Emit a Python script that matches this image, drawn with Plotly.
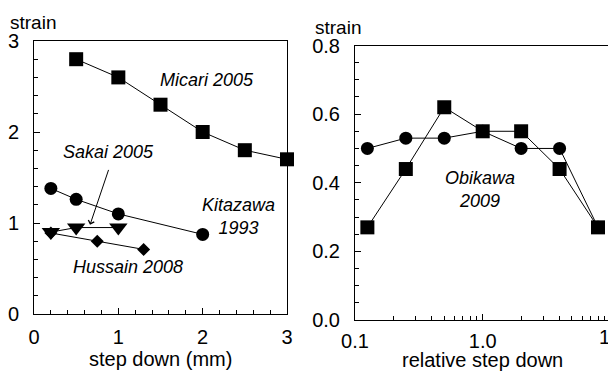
import math
import plotly.graph_objects as go

# Left panel data (step down in mm)
micari_x = [0.5, 1.0, 1.5, 2.0, 2.5, 3.0]
micari_y = [2.8, 2.6, 2.3, 2.0, 1.8, 1.7]
kitazawa_x = [0.2, 0.5, 1.0, 2.0]
kitazawa_y = [1.38, 1.26, 1.10, 0.875]
sakai_x = [0.2, 0.5, 1.0]
sakai_y = [0.90, 0.95, 0.95]
hussain_x = [0.2, 0.75, 1.3]
hussain_y = [0.89, 0.80, 0.71]

# Right panel data (relative step down, log)
obikawa_x = [0.125, 0.25, 0.5, 1.0, 2.0, 4.0, 8.0]
obikawa_circ_y = [0.50, 0.53, 0.53, 0.55, 0.50, 0.50, 0.27]
obikawa_sq_y = [0.27, 0.44, 0.62, 0.55, 0.55, 0.44, 0.27]

left_yticks = [0, 1, 2, 3]
left_xticks = [0, 1, 2, 3]
right_yticks = [0.0, 0.2, 0.4, 0.6, 0.8]
right_xticks = [0.1, 1.0]
right_xticktext = ["0.1", "1.0"]
right_xlast = 10
right_xlast_text = "10"
right_xminor = [m * d for d in (0.1, 1.0) for m in range(2, 10)]

FONT = "Liberation Sans, Arial, sans-serif"
W, H = 608, 371

# pixel layout of the two panels
L_X0, L_X1, L_Y0, L_Y1 = 34, 287, 314, 41
R_X0, R_Y0, R_Y1 = 355, 320, 45.5
R_DECADE = 127.7  # px per decade on the log axis
R_XMAX_LOG = -1 + (W - R_X0) / R_DECADE

line = dict(color="black", width=1)

fig = go.Figure()

def add(x, y, symbol, size, xa, ya):
    fig.add_trace(go.Scatter(
        x=x, y=y, mode="lines+markers", xaxis=xa, yaxis=ya,
        line=line, marker=dict(symbol=symbol, size=size, color="black"),
        showlegend=False, cliponaxis=False))

add(micari_x, micari_y, "square", 14, "x", "y")
add(kitazawa_x, kitazawa_y, "circle", 13, "x", "y")
add(hussain_x, hussain_y, "diamond", 10, "x", "y")
add(sakai_x, sakai_y, "triangle-down", 16, "x", "y")
add(obikawa_x, obikawa_circ_y, "circle", 13, "x2", "y2")
add(obikawa_x, obikawa_sq_y, "square", 14, "x2", "y2")

common = dict(showline=True, linecolor="black", linewidth=1, ticks="inside",
              ticklen=6, tickcolor="black", showgrid=False, zeroline=False,
              automargin=False,
              tickfont=dict(family=FONT, size=20, color="black"))

fig.update_layout(
    width=W, height=H,
    margin=dict(l=0, r=0, t=0, b=0),
    paper_bgcolor="white", plot_bgcolor="white",
    font=dict(family=FONT, color="black"),
    xaxis=dict(domain=[L_X0 / W, L_X1 / W], range=[0, 3], tickvals=left_xticks,
               mirror=True, anchor="y", ticklabelstandoff=5,
               minor=dict(dtick=0.2, ticks="inside", ticklen=4, tickcolor="black"),
               **common),
    yaxis=dict(domain=[(H - L_Y0) / H, (H - L_Y1) / H], range=[0, 3], tickvals=left_yticks,
               mirror=True, anchor="x", ticklabelstandoff=10,
               minor=dict(dtick=0.2, ticks="inside", ticklen=4, tickcolor="black"),
               **common),
    xaxis2=dict(domain=[R_X0 / W, 1], type="log", range=[-1, R_XMAX_LOG],
                tickvals=right_xticks, ticktext=right_xticktext,
                mirror=True, anchor="y2", ticklabelstandoff=3,
                minor=dict(tickmode="array", tickvals=right_xminor, ticks="inside",
                           ticklen=4, tickcolor="black"),
                **common),
    yaxis2=dict(domain=[(H - R_Y0) / H, (H - R_Y1) / H], range=[0, 0.8], tickvals=right_yticks,
                tickformat=".1f", mirror=False, anchor="x2", ticklabelstandoff=10,
                minor=dict(dtick=0.05, ticks="inside", ticklen=4, tickcolor="black"),
                **common),
)

ann_font = dict(family=FONT, size=18, color="black")
def label(text, x, y, xref, yref):
    fig.add_annotation(text=text, x=x, y=y, xref=xref, yref=yref, showarrow=False,
                       font=ann_font, align="center")

label("<i>Micari 2005</i>", 2.05, 2.57, "x", "y")
label("<i>Sakai 2005</i>", 0.88, 1.78, "x", "y")
label("<i>Kitazawa<br>1993</i>", 2.42, 1.07, "x", "y")
label("<i>Hussain 2008</i>", 1.12, 0.52, "x", "y")
label("<i>Obikawa<br>2009</i>", -0.021, 0.38, "x2", "y2")

# partially visible "10" tick label at the clipped right end of the log axis
x10_px = R_X0 + (math.log10(right_xlast) + 1) * R_DECADE
fig.add_annotation(text=right_xlast_text, x=x10_px / W, y=(H - R_Y0 - 4) / H,
                   xref="paper", yref="paper", yanchor="top", xanchor="center",
                   showarrow=False, font=dict(family=FONT, size=20, color="black"))

# axis titles
fig.add_annotation(text="step down (mm)", x=(L_X0 + L_X1) / 2 / W, y=(H - 359) / H,
                   xref="paper", yref="paper", xanchor="center", yanchor="middle",
                   showarrow=False, font=dict(family=FONT, size=20, color="black"))
fig.add_annotation(text="relative step down", x=(R_X0 + x10_px) / 2 / W, y=(H - 359.5) / H,
                   xref="paper", yref="paper", xanchor="center", yanchor="middle",
                   showarrow=False, font=dict(family=FONT, size=20, color="black"))

# arrow from Sakai label to the series
fig.add_annotation(x=0.664, y=0.98, ax=0.89, ay=1.60, xref="x", yref="y",
                   axref="x", ayref="y", showarrow=True, text="",
                   arrowhead=4, arrowsize=1.2, arrowwidth=1, arrowcolor="black")

# "strain" axis headers
fig.add_annotation(text="strain", x=8 / W, y=(H - 22) / H, xref="paper", yref="paper",
                   xanchor="left", yanchor="middle", showarrow=False,
                   font=dict(family=FONT, size=19, color="black"))
fig.add_annotation(text="strain", x=313 / W, y=(H - 27) / H, xref="paper", yref="paper",
                   xanchor="left", yanchor="middle", showarrow=False,
                   font=dict(family=FONT, size=19, color="black"))

fig.write_html("out.html")
